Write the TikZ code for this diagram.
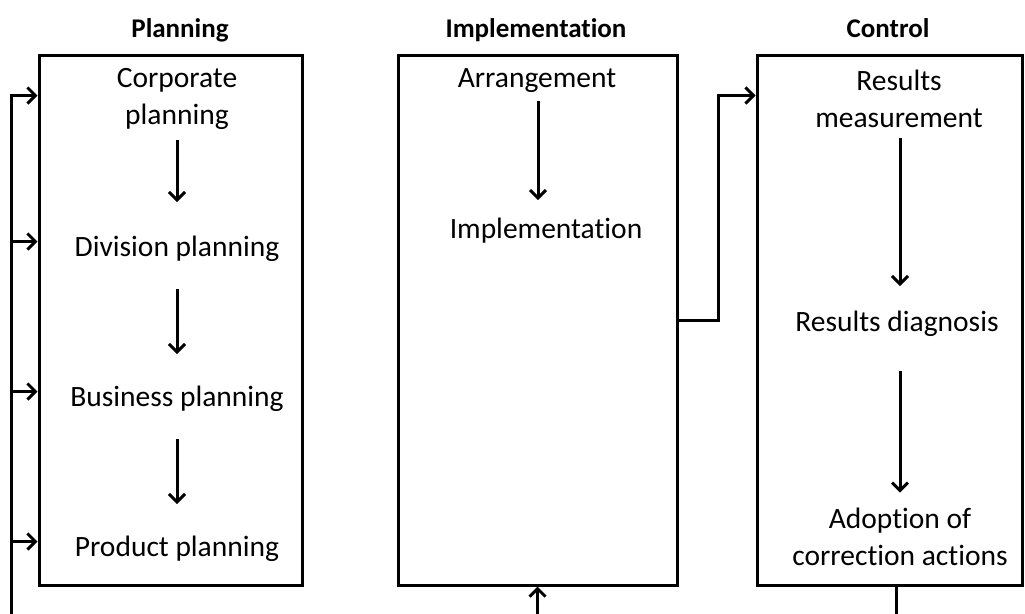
\documentclass[tikz,border=0pt]{standalone}
\usepackage{fontspec}
\setmainfont{Carlito}[Ligatures=NoCommon]
\usetikzlibrary{arrows.meta,calc}
\begin{document}
\begin{tikzpicture}[x=1pt,y=-1pt,
  panel/.style={draw,line width=3pt,minimum width=263pt,minimum height=530pt,inner sep=0pt},
  lbl/.style={font=\fontsize{29.5}{37.5}\selectfont,align=center,inner sep=0pt},
  head/.style={font=\fontsize{27}{30}\selectfont\bfseries,inner sep=0pt,anchor=base},
  arr/.style={line width=3pt,-{Straight Barb[length=8pt,width=16pt,line width=3pt]}},
  ln/.style={line width=3pt}]
\useasboundingbox (0,0) rectangle (1025,613);
\clip (0,0) rectangle (1025,613);
\fill[white] (0,0) rectangle (1025,613);
% panels
\node[panel] (P) at (170.5,320) {};
\node[panel,minimum width=279pt] (I) at (537.5,320) {};
\node[panel,minimum width=265pt] (C) at (889.5,320) {};
% headings
\node[head] (hP) at (180,37) {Planning};
\node[head] (hI) at (536,37) {Implementation};
\node[head] (hC) at (888,37) {Control};
% planning texts
\node[lbl] (cp) at (177,99) {Corporate\\planning};
\node[lbl] (dp) at (177,249) {Division planning};
\node[lbl] (bp) at (177,399) {Business planning};
\node[lbl] (pp) at (177,549) {Product planning};
% implementation texts
\node[lbl] (ar) at (537,81) {Arrangement};
\node[lbl] (im) at (546,231) {Implementation};
% control texts
\node[lbl] (rm) at (899,99) {Results\\measurement};
\node[lbl] (rd) at (897,324) {Results diagnosis};
\node[lbl] (ad) at (900,537) {Adoption of\\correction actions};
% internal arrows
\draw[arr,shorten <=10pt,shorten >=34pt] (cp.south -| 177,0) -- (dp.north -| 177,0);
\draw[arr,shorten <=27pt,shorten >=32pt] (dp.south -| 177,0) -- (bp.north -| 177,0);
\draw[arr,shorten <=27pt,shorten >=32pt] (bp.south -| 177,0) -- (pp.north -| 177,0);
\draw[arr,shorten <=8pt,shorten >=18pt] (ar.south -| 538,0) -- (im.north -| 538,0);
\draw[arr,shorten <=10pt,shorten >=25pt] (rm.south -| 900,0) -- (rd.north -| 900,0);
\draw[arr,shorten <=34pt,shorten >=15pt] (rd.south -| 900,0) -- (ad.north -| 900,0);
% feedback into planning
\coordinate (fb) at (11,620);
\draw[ln] (fb) -- (11,97);
\draw[arr] (fb) |- ($(P.north west)+(0,42)$);
\draw[arr] (fb) |- ($(P.north west)+(0,188)$);
\draw[arr] (fb) |- ($(P.north west)+(0,338)$);
\draw[arr] (fb) |- ($(P.north west)+(0,488)$);
% implementation -> control
\draw[arr] (I.east) -- ++(40,0) |- ($(C.north west)+(0,42)$);
% bottom connections
\coordinate (ib) at (I.south |- 0,620);
\draw[arr] (ib) -- (I.south);
\coordinate (cb) at ($(C.south)+(7,0)$);
\draw[ln] (cb) -- (cb |- 0,620);
\end{tikzpicture}
\end{document}
